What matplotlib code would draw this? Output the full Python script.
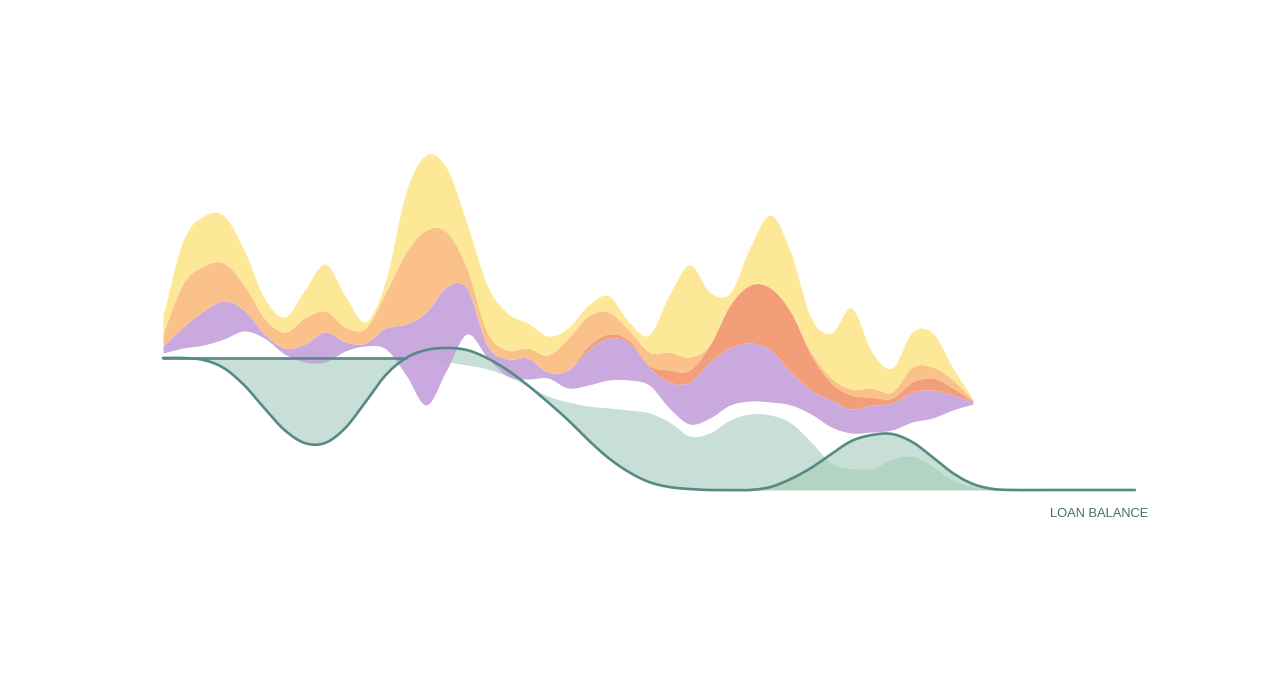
import numpy as np
import matplotlib.pyplot as plt

# periods on the x axis (streams run to period 40, balance to 48)
periods = np.arange(0, 49)
stream_periods = np.arange(0, 41)

# stream layers: offset of the stack + thickness of each layer
stream_base = [13.7, 14.2, 14.5, 15.1, 15.9, 15.2, 13.6, 12.8, 12.8, 13.9,
               14.4, 14.1, 11.5, 8.5, 12.0, 15.6, 13.3, 11.4, 11.1, 11.2,
               10.2, 10.5, 11.0, 11.0, 10.5, 8.2, 6.6, 7.2, 8.5, 8.9,
               8.8, 8.5, 7.6, 6.3, 5.7, 5.8, 6.0, 6.8, 7.2, 8.0, 8.6]
purple = [0.7, 2.1, 3.4, 3.8, 2.1, 0.4, 0.6, 1.8, 3.0, 0.9,
          0.3, 2.1, 5.1, 9.3, 8.3, 4.6, 1.2, 1.7, 2.1, 0.6,
          1.8, 3.5, 4.2, 3.7, 1.8, 2.6, 4.2, 5.6, 5.7, 5.8,
          5.2, 3.3, 2.4, 2.7, 2.4, 2.7, 2.7, 3.0, 2.8, 1.5, 0.2]
coral = [0, 0, 0, 0, 0, 0, 0, 0, 0, 0,
         0, 0, 0, 0, 0, 0, 0, 0, 0, 0,
         0, 0.4, 0.4, 0.3, 0.2, 1.2, 1.2, 1.7, 4.3, 5.8,
         6.2, 6.0, 3.5, 1.7, 1.4, 0.8, 0.5, 1.0, 1.2, 0.7, 0.1]
peach = [1.3, 4.4, 4.5, 3.8, 2.5, 1.6, 1.6, 2.6, 2.1, 1.5,
         1.5, 3.6, 7.2, 8.2, 5.5, 2.0, 1.3, 0.9, 1.0, 1.7,
         3.2, 3.0, 2.2, 1.0, 1.3, 1.8, 1.3, 0, 0, 0,
         0, 0, 0.3, 0.5, 0.6, 0.9, 0.6, 1.5, 1.1, 0.8, 0.1]
yellow = [1.8, 4.3, 5.0, 4.7, 3.5, 2.0, 1.5, 2.8, 4.7, 3.1,
          0.6, 1.2, 6.0, 7.5, 6.4, 4.5, 4.7, 3.7, 2.5, 1.9,
          1.0, 1.1, 1.6, 0.8, 1.7, 5.7, 9.2, 5.3, 1.2, 3.8,
          7.3, 5.9, 3.4, 4.5, 8.1, 3.6, 2.4, 3.5, 3.4, 1.2, 0.1]

# loan balance line and the shaded band that follows it
balance = [13.2, 13.2, 13.0, 12.2, 10.5, 8.2, 6.0, 4.7, 4.7, 6.2,
           8.8, 11.5, 13.2, 14.0, 14.2, 14.0, 13.2, 12.0, 10.5, 8.8,
           7.0, 5.0, 3.2, 1.8, 0.8, 0.3, 0.1, 0, 0, 0,
           0.3, 1.1, 2.2, 3.6, 4.9, 5.5, 5.6, 4.8, 3.3, 1.7,
           0.6, 0.1, 0, 0, 0, 0, 0, 0, 0]
band_top = [13.2, 13.2, 13.2, 13.2, 13.2, 13.2, 13.2, 13.2, 13.2, 13.2,
            13.2, 13.2, 13.2, 13.0, 12.8, 12.5, 12.1, 11.4, 10.4, 9.4,
            8.8, 8.4, 8.2, 8.0, 7.7, 6.8, 5.4, 5.7, 7.0, 7.6,
            7.5, 6.7, 4.8, 2.7, 2.2, 2.2, 3.1, 3.4, 2.4, 1.0,
            0.4, 0.1, 0, 0, 0, 0, 0, 0, 0]
opening_periods = 13  # flat reference line drawn over the first periods

layer_colors = ['#c6a3dc', '#f1976f', '#fabd82', '#fde78f']


def smooth(x, y, n=24):
    # catmull-rom through the points, just for drawing
    x = np.asarray(x, float)
    y = np.asarray(y, float)
    yp = np.concatenate([[2 * y[0] - y[1]], y, [2 * y[-1] - y[-2]]])
    t = np.linspace(0, 1, n, endpoint=False)
    xs, ys = [], []
    for i in range(1, len(yp) - 2):
        p0, p1, p2, p3 = yp[i - 1:i + 3]
        ys.append(0.5 * (2 * p1 + (-p0 + p2) * t + (2 * p0 - 5 * p1 + 4 * p2 - p3) * t ** 2
                         + (-p0 + 3 * p1 - 3 * p2 + p3) * t ** 3))
        xs.append(x[i - 1] + (x[i] - x[i - 1]) * t)
    xs.append([x[-1]])
    ys.append([y[-1]])
    return np.concatenate(xs), np.concatenate(ys)


fig = plt.figure(figsize=(12.8, 6.98), dpi=100)
ax = fig.add_axes([0, 0, 1, 1])
ax.set_xlim(-8.05, 55.16)
ax.set_ylim(-20.8, 49.0)
ax.axis('off')

# balance band
xs, bal_s = smooth(periods, balance)
_, band_s = smooth(periods, band_top)
ax.fill_between(xs, band_s, bal_s, color='#c8dfd8', lw=0, zorder=1)
ax.fill_between(xs, 0, np.clip(np.minimum(band_s, bal_s), 0, None),
                where=xs >= 29, color='#b2d5c3', lw=0, zorder=1.5)

# stacked streams
levels = np.cumsum([stream_base, purple, coral, peach, yellow], axis=0)
sx = None
smoothed = []
for lev in levels:
    sx, ly = smooth(stream_periods, lev)
    smoothed.append(ly)
smoothed = np.maximum.accumulate(np.array(smoothed), axis=0)
for i, c in enumerate(layer_colors):
    ax.fill_between(sx, smoothed[i], smoothed[i + 1], color=c, lw=0,
                    alpha=0.93, zorder=3)

# lines
ax.plot(xs, bal_s, color='#568a86', lw=1.9, zorder=5, solid_capstyle='round')
fx, fy = smooth(periods[:opening_periods], band_top[:opening_periods])
ax.plot(fx, fy, color='#568a86', lw=1.9, zorder=5, solid_capstyle='round')

ax.annotate('LOAN BALANCE', xy=(periods[-1], 0), xytext=(9.5, -17.5),
            textcoords='offset points', ha='right', va='center',
            fontsize=9.3, color='#3f6d6b', family='Liberation Sans')

fig.savefig('out.png', dpi=100, facecolor='white')
